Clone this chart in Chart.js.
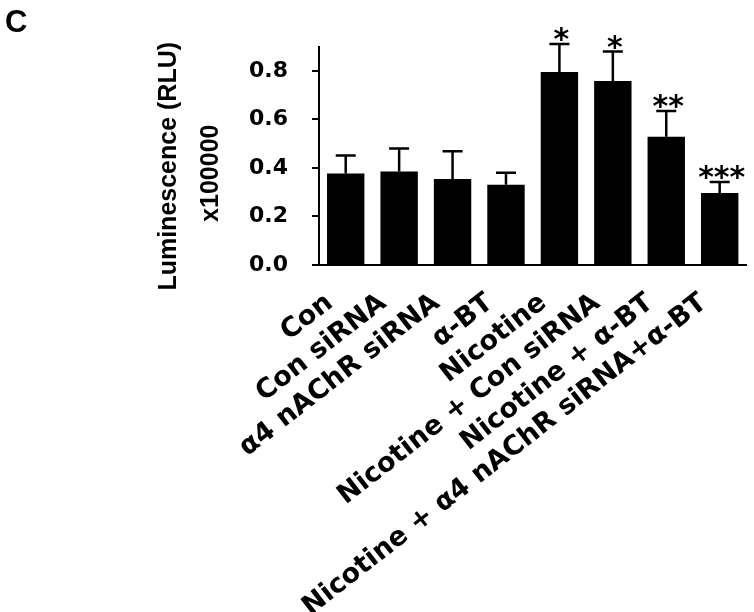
<!DOCTYPE html>
<html>
<head>
<meta charset="utf-8">
<script src="https://cdn.jsdelivr.net/npm/chart.js@4/dist/chart.umd.min.js"></script>
<style>
  html, body { margin: 0; padding: 0; background: #fff; }
  #wrap { width: 754px; height: 612px; }
</style>
</head>
<body>
<div id="wrap"><canvas id="c" width="754" height="612"></canvas></div>
<script>
// ---- data ----
const categories = [
  'Con',
  'Con siRNA',
  'α4 nAChR siRNA',
  'α-BT',
  'Nicotine',
  'Nicotine + Con siRNA',
  'Nicotine + α-BT',
  'Nicotine + α4 nAChR siRNA+α-BT'
];
const means = [0.377, 0.385, 0.355, 0.331, 0.796, 0.759, 0.529, 0.297];
const errors = [0.074, 0.095, 0.114, 0.049, 0.115, 0.121, 0.106, 0.045];
const significance = ['', '', '', '', '*', '*', '**', '***'];
const yTickValues = [0, 0.2, 0.4, 0.6, 0.8];
const yMax = 0.9;
const yTitleLines = ['Luminescence (RLU)   ', 'x100000     '];
const panelLabel = 'C';

const errorBarPlugin = {
  id: 'errorBars',
  afterDatasetsDraw(chart) {
    const ctx = chart.ctx;
    const meta = chart.getDatasetMeta(0);
    const yScale = chart.scales.y;
    ctx.save();
    ctx.strokeStyle = '#000';
    ctx.fillStyle = '#000';
    ctx.lineWidth = 2.5;
    meta.data.forEach((bar, i) => {
      const x = bar.x;
      const yBar = yScale.getPixelForValue(means[i]);
      const yTop = yScale.getPixelForValue(means[i] + errors[i]);
      ctx.beginPath();
      ctx.moveTo(x, yBar);
      ctx.lineTo(x, yTop);
      ctx.moveTo(x - 10, yTop);
      ctx.lineTo(x + 10, yTop);
      ctx.stroke();
      if (significance[i]) {
        ctx.font = 'bold 30px "DejaVu Sans"';
        ctx.textAlign = 'center';
        ctx.textBaseline = 'alphabetic';
        ctx.fillText(significance[i], x + 2, yTop + 5);
      }
    });
    ctx.restore();
  }
};

new Chart(document.getElementById('c'), {
  type: 'bar',
  data: {
    labels: categories,
    datasets: [{
      data: means,
      backgroundColor: '#000',
      borderWidth: 0,
      barPercentage: 0.7,
      categoryPercentage: 1.0
    }]
  },
  options: {
    responsive: false,
    animation: false,
    devicePixelRatio: 1,
    layout: { padding: { left: 5, right: 6, top: 0, bottom: 0 } },
    plugins: {
      legend: { display: false },
      tooltip: { enabled: false },
      title: {
        display: true,
        text: panelLabel,
        align: 'start',
        color: '#000',
        font: { family: '"Liberation Sans", Arial, sans-serif', size: 31, weight: 'bold', lineHeight: 1.1 },
        padding: { top: 6, bottom: 6.6 }
      }
    },
    scales: {
      x: {
        grid: { display: false },
        border: { display: true, color: '#000', width: 2 },
        ticks: {
          autoSkip: false,
          minRotation: 38,
          maxRotation: 38,
          padding: 14,
          labelOffset: -16,
          color: '#000',
          font: { family: '"DejaVu Sans", sans-serif', size: 27, weight: 'bold' }
        },
        afterFit(s) { s.height = 347; }
      },
      y: {
        min: 0,
        max: yMax,
        afterBuildTicks(s) { s.ticks = yTickValues.map(v => ({ value: v })); },
        grid: { drawOnChartArea: false, drawTicks: true, tickLength: 7, color: '#000', lineWidth: 2 },
        border: { display: true, color: '#000', width: 2 },
        ticks: {
          padding: 24,
          color: '#000',
          font: { family: '"DejaVu Sans", sans-serif', size: 22, weight: 'bold' },
          callback: v => Number(v).toFixed(1)
        },
        title: {
          display: true,
          text: yTitleLines,
          color: '#000',
          font: { family: '"Liberation Sans", Arial, sans-serif', size: 25, weight: 'bold', lineHeight: 1.68 },
          padding: { top: 143, bottom: 0 }
        },
        afterFit(s) { s.width = 314; }
      }
    }
  },
  plugins: [errorBarPlugin]
});
</script>
</body>
</html>
